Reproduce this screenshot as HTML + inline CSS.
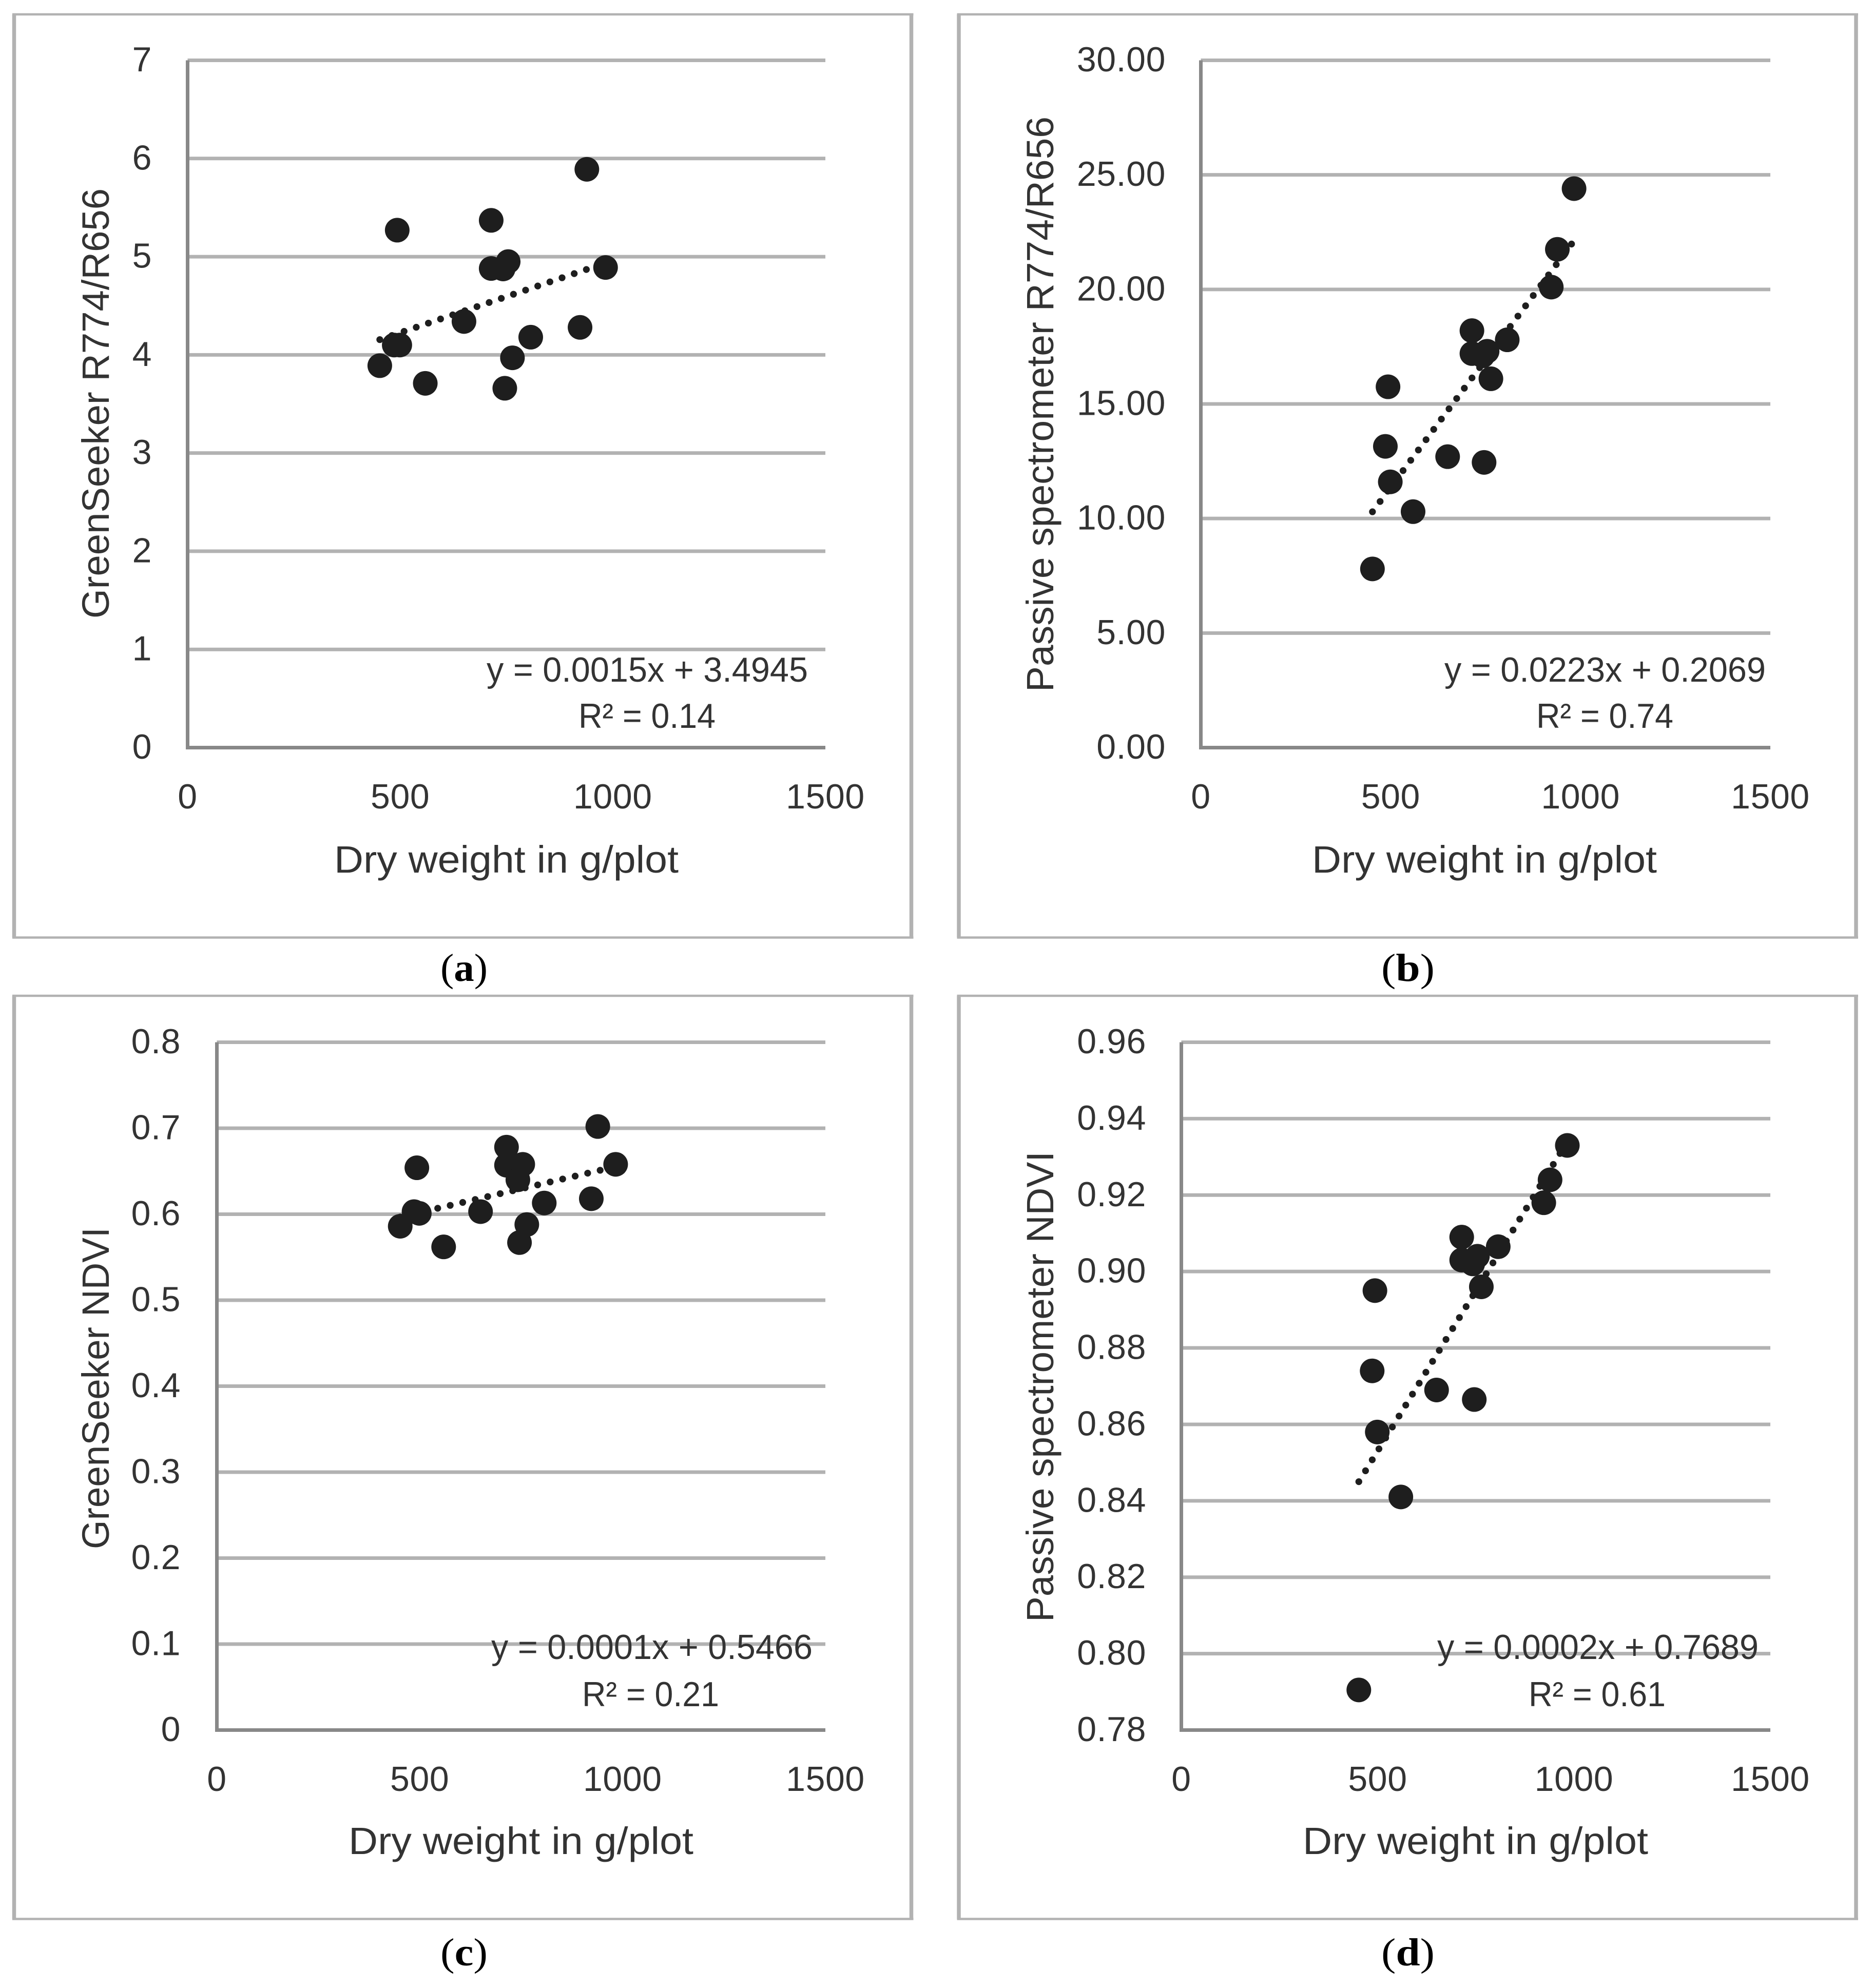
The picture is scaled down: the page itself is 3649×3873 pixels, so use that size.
<!DOCTYPE html>
<html lang="en">
<head>
<meta charset="utf-8">
<title>Dry weight vs. vegetation indices</title>
<style>
html,body{margin:0;padding:0;background:#fff;}
svg{display:block;}
text{font-family:"Liberation Sans",sans-serif;fill:#333;}
.cap{font-family:"Liberation Serif",serif;fill:#000;font-size:76px;}
</style>
</head>
<body>
<svg id="figure" xmlns="http://www.w3.org/2000/svg" width="3649" height="3873" viewBox="0 0 3649 3873">
<rect x="0" y="0" width="3649" height="3873" fill="#fff"/>
</svg>
<script>
// ---- data ----
const dryWeight = [452,486,493,499,559,650,714,714,742,746,754,764,807,923,939,983];
const greenSeekerRatio = [3.89,4.10,5.27,4.10,3.71,4.34,5.37,4.88,4.875,3.66,4.95,3.97,4.18,4.28,5.89,4.89];
const passiveRatio = [7.8,13.15,15.75,11.6,10.3,12.7,18.2,17.2,17.1,12.45,17.3,16.1,17.8,20.1,21.75,24.4];
const greenSeekerNdvi = [0.586,0.603,0.654,0.601,0.562,0.603,0.678,0.657,0.640,0.567,0.658,0.588,0.613,0.618,0.702,0.658];
const passiveNdvi = [0.7905,0.874,0.895,0.858,0.841,0.869,0.909,0.903,0.902,0.8665,0.904,0.896,0.9065,0.918,0.924,0.933];
const xTicks = ["0","500","1000","1500"];
const yTicksA = ["0","1","2","3","4","5","6","7"];
const yTicksB = ["0.00","5.00","10.00","15.00","20.00","25.00","30.00"];
const yTicksC = ["0","0.1","0.2","0.3","0.4","0.5","0.6","0.7","0.8"];
const yTicksD = ["0.78","0.80","0.82","0.84","0.86","0.88","0.90","0.92","0.94","0.96"];

// ---- layout ----
const panels = [
 {id:"a",values:greenSeekerRatio,ticks:yTicksA,yTitle:"GreenSeeker R774/R656",eq:"y = 0.0015x + 3.4945",r2:"R² = 0.14",
  frame:[27.5,28,1775.5,1826.5],plot:[365.5,1608,117.5,1456.5],yLabelX:296,
  xTitle:[651,671,1700],yTitleBox:[212,367,838],eqBox:[948,626,1328],r2Box:[1127,267,1418],cap:[858,92,1911]},
 {id:"b",values:passiveRatio,ticks:yTicksB,yTitle:"Passive spectrometer R774/R656",eq:"y = 0.0223x + 0.2069",r2:"R² = 0.74",
  frame:[1868,28,3616,1826.5],plot:[2339.5,3449,117.5,1456.5],yLabelX:2271,
  xTitle:[2556,672,1700],yTitleBox:[2052,227,1121],eqBox:[2814,626,1328],r2Box:[2993,267,1418],cap:[2691,104,1911]},
 {id:"c",values:greenSeekerNdvi,ticks:yTicksC,yTitle:"GreenSeeker NDVI",eq:"y = 0.0001x + 0.5466",r2:"R² = 0.21",
  frame:[27.5,1940,1775.5,3738.5],plot:[422.5,1608,2030.5,3370.5],yLabelX:352,
  xTitle:[679,672,3612],yTitleBox:[212,2391,627],eqBox:[957,626,3232],r2Box:[1134,267,3324],cap:[858,92,3829]},
 {id:"d",values:passiveNdvi,ticks:yTicksD,yTitle:"Passive spectrometer NDVI",eq:"y = 0.0002x + 0.7689",r2:"R² = 0.61",
  frame:[1868,1940,3616,3738.5],plot:[2301.5,3449,2030.5,3370.5],yLabelX:2233,
  xTitle:[2538,673,3612],yTitleBox:[2052,2243,917],eqBox:[2800,626,3232],r2Box:[2978,267,3324],cap:[2691,104,3829]}
];

const NS = "http://www.w3.org/2000/svg";
const root = document.getElementById("figure");
function make(tag, attrs, parent){
  const el = document.createElementNS(NS, tag);
  for (const k in attrs) el.setAttribute(k, attrs[k]);
  parent.appendChild(el);
  return el;
}
function fit(xs, ys){
  const n = xs.length;
  const mx = xs.reduce((s,v)=>s+v,0)/n;
  const my = ys.reduce((s,v)=>s+v,0)/n;
  let sxy = 0, sxx = 0;
  xs.forEach((x,i)=>{ sxy += (x-mx)*(ys[i]-my); sxx += (x-mx)*(x-mx); });
  const slope = sxy/sxx;
  return {slope:slope, intercept:my-slope*mx};
}

panels.forEach(function(p){
  const g = make("g", {}, root);
  
  

  // chart frame
  const [fl,ft,fr,fb] = p.frame;
  const frame = make("g", {stroke:"#b2b2b2"}, g);
  
  
  make("line", {x1:fl-3.5,y1:ft,x2:fr+4,y2:ft,"stroke-width":4.5}, frame);
  make("line", {x1:fl-3.5,y1:fb,x2:fr+4,y2:fb,"stroke-width":4.5}, frame);
  make("line", {x1:fl,y1:ft,x2:fl,y2:fb,"stroke-width":7.5}, frame);
  make("line", {x1:fr,y1:ft,x2:fr,y2:fb,"stroke-width":7.5}, frame);

  const [px0,px1,pyTop,pyBot] = p.plot;
  const yVals = p.ticks.map(Number);
  const yMin = yVals[0], yMax = yVals[yVals.length-1];
  const xMax = Number(xTicks[xTicks.length-1]);
  const xScale = v => px0 + v/xMax*(px1-px0);
  const yScale = v => pyBot - (v-yMin)/(yMax-yMin)*(pyBot-pyTop);

  // gridlines and y tick labels
  p.ticks.forEach(function(t, i){
    const y = yScale(Number(t));
    if (i > 0) {
      const grid = make("line", {x1:px0,y1:y,x2:px1,y2:y,stroke:"#b2b2b2","stroke-width":7}, g);
      
      
    }
    const lab = make("text", {x:p.yLabelX,y:y+21.5,"text-anchor":"end","font-size":68,"letter-spacing":0.6}, g);
    
    
    lab.textContent = t;
  });

  // axes
  const xAxis = make("line", {x1:px0-3.5,y1:pyBot,x2:px1,y2:pyBot,stroke:"#888","stroke-width":7}, g);
  
  
  const yAxis = make("line", {x1:px0,y1:pyTop,x2:px0,y2:pyBot,stroke:"#888","stroke-width":7}, g);
  
  

  // x tick labels
  xTicks.forEach(function(t){
    const lab = make("text", {x:xScale(Number(t)),y:pyBot+118.5,"text-anchor":"middle","font-size":68,"letter-spacing":0.6}, g);
    
    
    lab.textContent = t;
  });

  // trendline from regression of the data
  const line = fit(dryWeight, p.values);
  const xa = Math.min.apply(null, dryWeight), xb = Math.max.apply(null, dryWeight);
  const trend = make("line", {x1:xScale(xa),y1:yScale(line.slope*xa+line.intercept),x2:xScale(xb),y2:yScale(line.slope*xb+line.intercept),
    stroke:"#1e1e1e","stroke-width":13.3,"stroke-linecap":"round","stroke-dasharray":"0 25"}, g);
  
  

  // scatter points
  dryWeight.forEach(function(x, i){
    const c = make("circle", {cx:xScale(x),cy:yScale(p.values[i]),r:24,fill:"#1e1e1e"}, g);
    
    
  });

  // axis titles
  const xt = make("text", {x:p.xTitle[0],y:p.xTitle[2],"font-size":74,textLength:p.xTitle[1],lengthAdjust:"spacingAndGlyphs"}, g);
  
  
  xt.textContent = "Dry weight in g/plot";

  const [tx,tTop,tLen] = p.yTitleBox;
  const yt = make("text", {transform:"translate("+tx+","+(tTop+tLen)+") rotate(-90)",x:0,y:0,"font-size":74,textLength:tLen,lengthAdjust:"spacingAndGlyphs"}, g);
  
  
  yt.textContent = p.yTitle;

  // equation labels
  const eq = make("text", {x:p.eqBox[0],y:p.eqBox[2],"font-size":68,textLength:p.eqBox[1],lengthAdjust:"spacingAndGlyphs"}, g);
  
  
  eq.textContent = p.eq;

  const r2 = make("text", {x:p.r2Box[0],y:p.r2Box[2],"font-size":68,textLength:p.r2Box[1],lengthAdjust:"spacingAndGlyphs"}, g);
  
  
  r2.textContent = p.r2;

  // caption
  const cap = make("text", {"class":"cap",x:p.cap[0],y:p.cap[2],textLength:p.cap[1],lengthAdjust:"spacingAndGlyphs"}, g);
  
  
  cap.appendChild(document.createTextNode("("));
  const letter = make("tspan", {"font-weight":"bold"}, cap);
  letter.textContent = p.id;
  cap.appendChild(document.createTextNode(")"));
});
</script>
</body>
</html>
